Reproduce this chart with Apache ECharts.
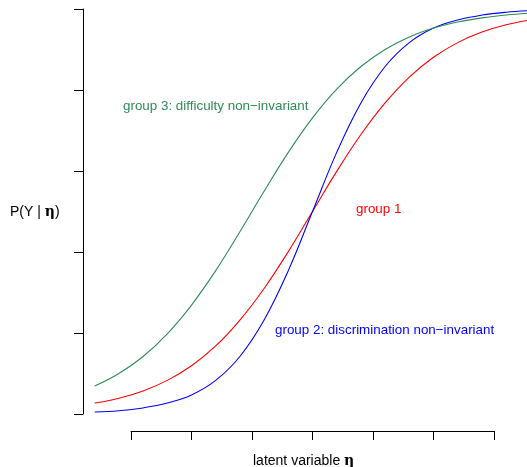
<!DOCTYPE html>
<html>
<head>
<meta charset="utf-8">
<script src="https://cdn.jsdelivr.net/npm/echarts@6/dist/echarts.min.js"></script>
<style>
  html, body { margin: 0; padding: 0; background: #fff; }
  #main { width: 527px; height: 467px; }
</style>
</head>
<body>
<div id="main"></div>
<script>
  // latent variable grid and the three item characteristic curves
  var eta = [-3.6, -3.2, -2.8, -2.4, -2.0, -1.6, -1.2, -0.8, -0.4, 0, 0.4, 0.8, 1.2, 1.6, 2.0, 2.4, 2.8, 3.2, 3.6];
  var group1 = [0.027, 0.039, 0.057, 0.083, 0.119, 0.168, 0.232, 0.310, 0.401, 0.500, 0.599, 0.690, 0.768, 0.832, 0.881, 0.917, 0.943, 0.961, 0.973];
  var group2 = [0.005, 0.008, 0.015, 0.027, 0.047, 0.083, 0.142, 0.232, 0.354, 0.500, 0.646, 0.768, 0.858, 0.917, 0.953, 0.973, 0.985, 0.992, 0.996];
  var group3 = [0.069, 0.100, 0.142, 0.198, 0.269, 0.354, 0.450, 0.550, 0.646, 0.731, 0.802, 0.858, 0.900, 0.931, 0.953, 0.968, 0.978, 0.985, 0.990];
  var xTicks = [-3, -2, -1, 0, 1, 2, 3];
  var yTicks = [0, 0.2, 0.4, 0.6, 0.8, 1];

  function pairs(ys) {
    return eta.map(function (x, i) { return [x, ys[i]]; });
  }

  var font = 'Liberation Sans, Arial, Helvetica, sans-serif';
  var fs = 13.4;
  var etaRich = { e: { fontFamily: 'DejaVu Serif', fontWeight: 'bold', fontSize: 14, fill: '#000' } };

  function label(x, y, text, color, rich, size) {
    return {
      type: 'text', x: x, y: y,
      style: { text: text, fill: color, fontFamily: font, fontSize: size || fs, verticalAlign: 'middle', rich: rich }
    };
  }

  var myChart = echarts.init(document.getElementById('main'));
  var option = {
    animation: false,
    grid: [
      { left: 83, right: 0, top: 9, bottom: 53 },
      { left: 131, right: 33, top: 9, bottom: 36 }
    ],
    xAxis: [
      { gridIndex: 0, type: 'value', min: -3.793, max: 3.545, show: false },
      {
        gridIndex: 1, type: 'value', min: xTicks[0], max: xTicks[xTicks.length - 1], interval: 1,
        axisLine: { show: true, onZero: false, lineStyle: { color: '#000', width: 1 } },
        axisTick: { show: true, length: 9, lineStyle: { color: '#000' } },
        axisLabel: { show: false },
        splitLine: { show: false }
      }
    ],
    yAxis: [
      {
        gridIndex: 0, type: 'value', min: yTicks[0], max: yTicks[yTicks.length - 1], interval: 0.2,
        axisLine: { show: true, onZero: false, lineStyle: { color: '#000', width: 1 } },
        axisTick: { show: true, length: 9, lineStyle: { color: '#000' } },
        axisLabel: { show: false },
        splitLine: { show: false }
      },
      { gridIndex: 1, type: 'value', show: false }
    ],
    series: [
      { name: 'group 1', type: 'line', data: pairs(group1), smooth: 0.4, symbol: 'none',
        lineStyle: { color: '#ff0000', width: 1.1 } },
      { name: 'group 2', type: 'line', data: pairs(group2), smooth: 0.4, symbol: 'none',
        lineStyle: { color: '#0000ff', width: 1.1 } },
      { name: 'group 3', type: 'line', data: pairs(group3), smooth: 0.4, symbol: 'none',
        lineStyle: { color: '#2e8b57', width: 1.1 } }
    ],
    graphic: [
      label(123, 106, 'group 3: difficulty non\u2212invariant', '#2e8b57'),
      label(356, 209, 'group 1', '#ff0000'),
      label(275, 330, 'group 2: discrimination non\u2212invariant', '#0000ff'),
      label(10, 212, 'P(Y | {e|\u03b7})', '#000', etaRich, 14),
      label(253, 461, 'latent variable {e|\u03b7}', '#000', etaRich, 14)
    ]
  };
  myChart.setOption(option);
</script>
</body>
</html>
